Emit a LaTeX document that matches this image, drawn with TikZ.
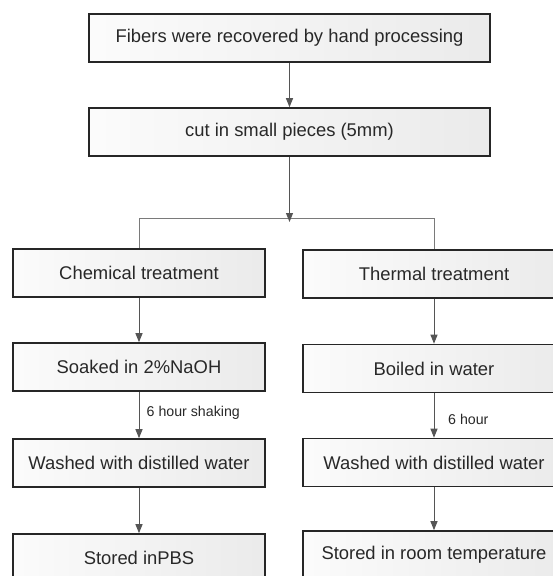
\documentclass[tikz,border=0pt]{standalone}
\usepackage{fontspec}
\setmainfont{Liberation Sans}
\usetikzlibrary{arrows.meta}
\definecolor{boxline}{HTML}{262626}
\definecolor{connline}{HTML}{555555}
\definecolor{brline}{HTML}{7A7A7A}
\definecolor{txt}{HTML}{282828}
\begin{document}
\begin{tikzpicture}[x=1pt,y=-1pt,
  box/.style={draw=boxline, line width=1.6pt, rectangle, inner sep=0pt,
    minimum height=48pt, left color=white!97!gray, right color=gray!16,
    text=txt, font=\fontsize{18.4}{20}\selectfont},
  lbox/.style={box, minimum width=252pt},
  rbox/.style={box, minimum width=262pt},
  conn/.style={draw=connline, line width=1pt, -{Triangle[length=9pt,width=7pt]}},
  brk/.style={draw=brline, line width=1pt},
  lbl/.style={text=txt, inner sep=0pt, font=\fontsize{14.2}{16}\selectfont}]
\useasboundingbox (0,0) rectangle (553,576);
\clip (0,0) rectangle (553,576);
\fill[white] (0,0) rectangle (553,576);
\node[box, minimum width=401pt] (b1) at (289.5,38) {Fibers were recovered by hand processing};
\node[box, minimum width=401pt] (b2) at (289.5,132) {cut in small pieces (5mm)};
\node[lbox] (chem) at (139,273) {Chemical treatment};
\node[rbox] (therm) at (434,274) {Thermal treatment};
\node[lbox] (soak) at (139,367) {Soaked in 2\%NaOH};
\node[rbox] (boil) at (434,368.5) {Boiled in water};
\node[lbox] (washl) at (139,463) {Washed with distilled water};
\node[rbox] (washr) at (434,462.5) {Washed with distilled water};
\node[lbox] (storl) at (139,558) {Stored inPBS};
\node[rbox] (storr) at (434,555) {Stored in room temperature};
\coordinate (split) at (289.5,218);
\coordinate (tip) at (289.5,222);
\draw[brk] (chem.north) -- (chem.north |- split) -- (therm.north |- split) -- (therm.north);
\draw[conn] (b1) -- (b2);
\draw[conn] (b2.south) -- (tip);
\draw[conn] (chem) -- (soak);
\draw[conn] (soak) -- (washl);
\draw[conn] (washl) -- (storl);
\draw[conn] (therm) -- (boil);
\draw[conn] (boil) -- (washr);
\draw[conn] (washr) -- (storr);
\node[lbl, anchor=west] (l1) at (146.5,413) {6 hour shaking};
\node[lbl, anchor=west] (l2) at (448,419) {6 hour};
\end{tikzpicture}
\end{document}
